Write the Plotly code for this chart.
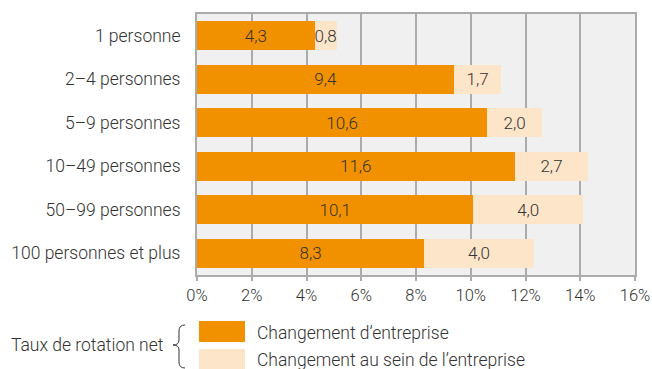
import plotly.graph_objects as go

categories = ["1 personne", "2–4 personnes", "5–9 personnes", "10–49 personnes",
              "50–99 personnes", "100 personnes et plus"]
changement_entreprise = [4.3, 9.4, 10.6, 11.6, 10.1, 8.3]
changement_au_sein = [0.8, 1.7, 2.0, 2.7, 4.0, 4.0]
tick_values = [0, 2, 4, 6, 8, 10, 12, 14, 16]
tick_labels = [f"{v}%" for v in tick_values]
series_names = ["Changement d’entreprise", "Changement au sein de l’entreprise"]
legend_title = "Taux de rotation net"

ORANGE = "#F29100"
PEACH = "#FDE5C9"
TEXT = "#333333"
GRID = "#ABABAB"


def font(size):
    return dict(family="Roboto", size=size, color=TEXT, weight=300)


def fr(v):
    return f"{v:.1f}".replace(".", ",")


fig = go.Figure()
for name, vals, col in [(series_names[0], changement_entreprise, ORANGE),
                        (series_names[1], changement_au_sein, PEACH)]:
    fig.add_trace(go.Bar(
        y=categories, x=vals, orientation="h", name=name,
        marker=dict(color=col, line=dict(width=0)),
        text=[fr(v) for v in vals], textposition="inside", textangle=0,
        insidetextanchor="middle", constraintext="none",
        textfont=font(17), showlegend=False,
    ))

W, H = 652, 369
L, R, T, B = 197, 17, 14, 94
pw, ph = W - L - R, H - T - B


def px(x):
    return (x - L) / pw


def py(y):
    return (H - B - y) / ph


# legend swatches and labels
fig.add_shape(type="rect", xref="paper", yref="paper",
              x0=px(199), x1=px(245), y0=py(342), y1=py(321),
              fillcolor=ORANGE, line=dict(width=0))
fig.add_shape(type="rect", xref="paper", yref="paper",
              x0=px(199), x1=px(245), y0=py(372), y1=py(349),
              fillcolor=PEACH, line=dict(width=0))
fig.add_annotation(xref="paper", yref="paper", x=px(255), y=py(333),
                   text=series_names[0], showarrow=False, xanchor="left",
                   yanchor="middle", font=font(17.5))
fig.add_annotation(xref="paper", yref="paper", x=px(255), y=py(360),
                   text=series_names[1], showarrow=False, xanchor="left",
                   yanchor="middle", font=font(17.5))
fig.add_annotation(xref="paper", yref="paper", x=px(165), y=py(345),
                   text=legend_title, showarrow=False, xanchor="right",
                   yanchor="middle", font=font(17.5))

# curly brace grouping the two legend entries
bx0, bx1, byt, bym, byb = 173, 185, 325, 345, 368
def P(x, y):
    return f"{px(x):.5f},{py(y):.5f}"
bx = bx1 - 6
brace = (f"M {P(bx1, byt)} Q {P(bx, byt)} {P(bx, byt+6)} "
         f"L {P(bx, bym-5)} Q {P(bx, bym)} {P(bx0, bym)} "
         f"Q {P(bx, bym)} {P(bx, bym+5)} "
         f"L {P(bx, byb-6)} Q {P(bx, byb)} {P(bx1, byb)}")
fig.add_shape(type="path", xref="paper", yref="paper", path=brace,
              line=dict(color=TEXT, width=1))

fig.update_layout(
    width=W, height=H, barmode="stack", bargap=0.333,
    margin=dict(l=L, r=R, t=T, b=B, pad=0, autoexpand=False),
    paper_bgcolor="white", plot_bgcolor="#F0F0F0",
    font=font(16),
    uniformtext=dict(minsize=17, mode="show"),
    xaxis=dict(range=[0, 16], tickvals=tick_values, ticktext=tick_labels,
               automargin=False,
               showgrid=True, gridcolor=GRID, gridwidth=1.5,
               showline=True, linecolor=GRID, linewidth=2, mirror=True,
               ticks="outside", ticklen=4, tickcolor=GRID, tickwidth=1.5,
               zeroline=False, tickfont=font(16.5)),
    yaxis=dict(autorange="reversed", showgrid=False, automargin=False,
               showline=True, linecolor=GRID, linewidth=2, mirror=True,
               ticks="", ticklabelstandoff=11, tickfont=font(17.5)),
)

fig.write_html("out.html")
